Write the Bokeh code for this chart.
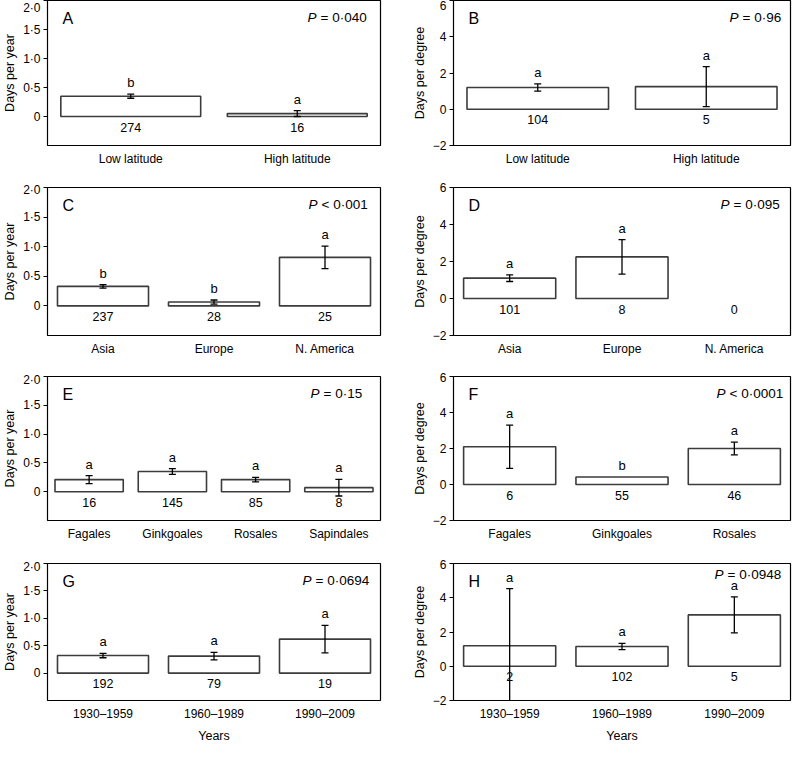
from bokeh.plotting import figure
from bokeh.layouts import gridplot
from bokeh.models import Range1d, FixedTicker
from bokeh.embed import file_html
from bokeh.resources import INLINE
from bokeh.core.properties import value

FONT = "Liberation Sans"

# ---------------- data ----------------
lat_cats = ["Low latitude", "High latitude"]
cont_cats = ["Asia", "Europe", "N. America"]
order4_cats = ["Fagales", "Ginkgoales", "Rosales", "Sapindales"]
order3_cats = ["Fagales", "Ginkgoales", "Rosales"]
year_cats = ["1930\u20131959", "1960\u20131989", "1990\u20132009"]

A_mean = [0.35, 0.05]
A_err = [0.035, 0.05]
A_n = ["274", "16"]
A_letters = ["b", "a"]
A_p = ["P", "= 0\u00b7040"]

B_mean = [1.2, 1.25]
B_err = [0.2, 1.1]
B_n = ["104", "5"]
B_letters = ["a", "a"]
B_p = ["P", "= 0\u00b796"]

C_mean = [0.33, 0.065, 0.82]
C_err = [0.03, 0.035, 0.19]
C_n = ["237", "28", "25"]
C_letters = ["b", "b", "a"]
C_p = ["P", "< 0\u00b7001"]

D_mean = [1.1, 2.25, None]
D_err = [0.18, 0.93, None]
D_n = ["101", "8", "0"]
D_letters = ["a", "a", ""]
D_p = ["P", "= 0\u00b7095"]

E_mean = [0.21, 0.35, 0.21, 0.07]
E_err = [0.07, 0.05, 0.04, 0.145]
E_n = ["16", "145", "85", "8"]
E_letters = ["a", "a", "a", "a"]
E_p = ["P", "= 0\u00b715"]

F_mean = [2.1, 0.42, 2.0]
F_err = [1.2, None, 0.35]
F_n = ["6", "55", "46"]
F_letters = ["a", "b", "a"]
F_p = ["P", "< 0\u00b70001"]

G_mean = [0.32, 0.31, 0.62]
G_err = [0.04, 0.07, 0.25]
G_n = ["192", "79", "19"]
G_letters = ["a", "a", "a"]
G_p = ["P", "= 0\u00b70694"]

H_mean = [1.2, 1.15, 3.0]
H_err = [3.33, 0.18, 1.05]
H_n = ["2", "102", "5"]
H_letters = ["a", "a", "a"]
H_p = ["P", "= 0\u00b70948"]

year_ticks = [0, 0.5, 1.0, 1.5, 2.0]
year_tick_labels = ["0", "0\u00b75", "1\u00b70", "1\u00b75", "2\u00b70"]
deg_ticks = [-2, 0, 2, 4, 6]
deg_tick_labels = ["\u22122", "0", "2", "4", "6"]

# ---------------- layout ----------------
ROW_H = [182, 190, 187, 186]
ROW_TOP = [0, 5, 4, 4]
ROW_BOTTOM = [37, 37, 39, 36]
COL_W = [392, 400]
COL_LEFT = [40, 61]
COL_RIGHT = [12, 2]


def make_panel(letter, cats, mean, err, n, letters, ptxt, kind, row, col,
               p_off, bar_w, xlabel=None, p_dy=9):
    ncat = len(cats)
    if kind == "year":
        yr = (-0.5, 2.0)
        ticks, tlabels, ylab = year_ticks, year_tick_labels, "Days per year"
    else:
        yr = (-2.0, 6.0)
        ticks, tlabels, ylab = deg_ticks, deg_tick_labels, "Days per degree"
    p = figure(width=COL_W[col], height=ROW_H[row],
               x_range=Range1d(-0.5, ncat - 0.5), y_range=Range1d(*yr),
               output_backend="svg", toolbar_location=None,
               min_border_left=COL_LEFT[col], min_border_right=COL_RIGHT[col],
               min_border_top=ROW_TOP[row], min_border_bottom=ROW_BOTTOM[row])
    p.xgrid.visible = False
    p.ygrid.visible = False
    p.outline_line_color = "black"
    p.outline_line_width = 1.2
    p.outline_line_alpha = 1.0
    p.background_fill_color = "white"
    p.border_fill_color = "white"

    xs = list(range(ncat))
    p.xaxis.ticker = FixedTicker(ticks=xs)
    p.xaxis.major_label_overrides = {i: c for i, c in zip(xs, cats)}
    p.xaxis.axis_line_color = None
    p.xaxis.major_tick_line_color = None
    p.xaxis.major_tick_out = 0
    p.xaxis.major_tick_in = 0
    p.xaxis.minor_tick_line_color = None
    p.xaxis.minor_tick_out = 0
    p.xaxis.major_label_standoff = 6
    p.xaxis.major_label_text_font = FONT
    p.xaxis.major_label_text_font_size = "12px"
    p.xaxis.major_label_text_color = "black"
    if xlabel:
        p.xaxis.axis_label = xlabel
        p.xaxis.axis_label_text_font = FONT
        p.xaxis.axis_label_text_font_size = "12.5px"
        p.xaxis.axis_label_text_font_style = "normal"
        p.xaxis.axis_label_text_color = "black"
        p.xaxis.axis_label_standoff = 5

    p.yaxis.ticker = FixedTicker(ticks=ticks)
    p.yaxis.major_label_overrides = {t: l for t, l in zip(ticks, tlabels)}
    p.yaxis.axis_line_color = None
    p.yaxis.major_tick_out = 4
    p.yaxis.major_tick_in = 0
    p.yaxis.major_tick_line_color = "black"
    p.yaxis.minor_tick_line_color = None
    p.yaxis.minor_tick_out = 0
    p.yaxis.major_label_standoff = 3
    p.yaxis.major_label_text_font = FONT
    p.yaxis.major_label_text_font_size = "12px"
    p.yaxis.major_label_text_color = "black"
    p.yaxis.axis_label = ylab
    p.yaxis.axis_label_text_font = FONT
    p.yaxis.axis_label_text_font_size = "12.5px"
    p.yaxis.axis_label_text_font_style = "normal"
    p.yaxis.axis_label_text_color = "black"
    p.yaxis.axis_label_standoff = 3

    bx = [x for x, m in zip(xs, mean) if m is not None]
    bm = [m for m in mean if m is not None]
    p.vbar(x=bx, top=bm, bottom=0, width=bar_w, fill_color="white",
           line_color="#3c3c3c", line_width=1.6)

    ex, elo, ehi = [], [], []
    for x, m, e in zip(xs, mean, err):
        if m is not None and e is not None:
            ex.append(x)
            elo.append(m - e)
            ehi.append(m + e)
    p.segment(x0=ex, y0=elo, x1=ex, y1=ehi, line_color="black", line_width=1.3)
    p.scatter(x=ex + ex, y=elo + ehi, marker="dash", size=7,
              line_color="black", line_width=1.3)

    # significance letters above error bars
    lx, ly, lt = [], [], []
    for x, m, e, l in zip(xs, mean, err, letters):
        if l and m is not None:
            lx.append(x)
            ly.append(m + (e if e is not None else 0))
            lt.append(l)
    p.text(x=lx, y=ly, text=lt, text_align="center", text_baseline="bottom",
           y_offset=-4, text_font=value(FONT), text_font_size=value("13px"),
           text_color="black")

    # sample sizes below zero line
    p.text(x=xs, y=[0] * ncat, text=n, text_align="center", text_baseline="top",
           y_offset=6, text_font=value(FONT), text_font_size=value("12.5px"),
           text_color="black")

    # panel letter
    p.text(x=[-0.5], y=[yr[1]], text=[letter], text_align="left",
           text_baseline="top", x_offset=15, y_offset=9,
           text_font=value(FONT), text_font_size=value("16px"), text_color="black")

    # P value
    p.text(x=[ncat - 0.5], y=[yr[1]], text=[ptxt[0]], text_align="left",
           text_baseline="top", x_offset=p_off, y_offset=p_dy,
           text_font=value(FONT), text_font_size=value("13.5px"),
           text_font_style="italic", text_color="black")
    p.text(x=[ncat - 0.5], y=[yr[1]], text=[ptxt[1]], text_align="left",
           text_baseline="top", x_offset=p_off + 13, y_offset=p_dy,
           text_font=value(FONT), text_font_size=value("13.5px"), text_color="black")
    return p


pA = make_panel("A", lat_cats, A_mean, A_err, A_n, A_letters, A_p, "year", 0, 0, -73, 0.84)
pB = make_panel("B", lat_cats, B_mean, B_err, B_n, B_letters, B_p, "degree", 0, 1, -61, 0.84)
pC = make_panel("C", cont_cats, C_mean, C_err, C_n, C_letters, C_p, "year", 1, 0, -72, 0.82)
pD = make_panel("D", cont_cats, D_mean, D_err, D_n, D_letters, D_p, "degree", 1, 1, -70, 0.82)
pE = make_panel("E", order4_cats, E_mean, E_err, E_n, E_letters, E_p, "year", 2, 0, -70, 0.82)
pF = make_panel("F", order3_cats, F_mean, F_err, F_n, F_letters, F_p, "degree", 2, 1, -74, 0.82)
pG = make_panel("G", year_cats, G_mean, G_err, G_n, G_letters, G_p, "year", 3, 0, -78, 0.82, "Years")
pH = make_panel("H", year_cats, H_mean, H_err, H_n, H_letters, H_p, "degree", 3, 1, -76, 0.82, "Years", p_dy=3)

grid = gridplot([[pA, pB], [pC, pD], [pE, pF], [pG, pH]], toolbar_location=None)

open("out.html", "w").write(file_html(grid, INLINE))
